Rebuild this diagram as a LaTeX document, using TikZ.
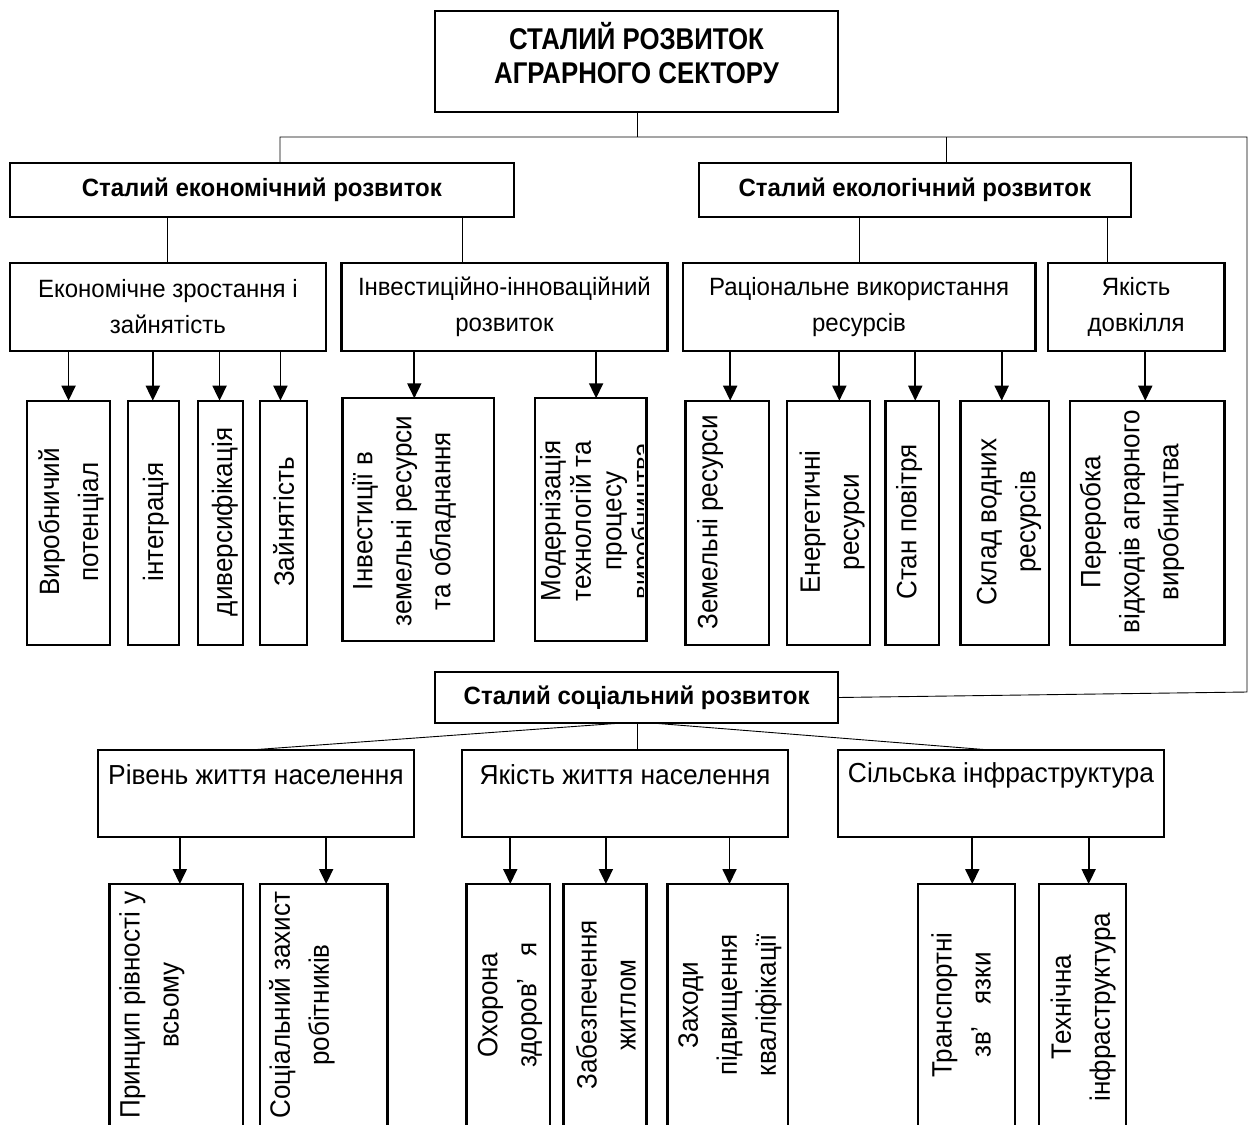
\documentclass[tikz,border=0pt]{standalone}
\usepackage{fontspec}
\setmainfont{Liberation Sans}
\newfontfamily\condbold[FakeStretch=0.86]{Liberation Sans Bold}
\newfontfamily\subbold[FakeStretch=0.96]{Liberation Sans Bold}
\newfontfamily\hfont[FakeStretch=0.96]{Liberation Sans}
\newfontfamily\vfont[FakeStretch=0.93]{Liberation Sans}
\usetikzlibrary{arrows.meta}
\newcommand\mkbox[5]{\node[box, minimum width={(#4-#2)*1pt}, minimum height={(#5-#3)*1pt}] (#1) at ({(#2+#4)/2},{(#3+#5)/2}) {};}
\begin{document}
\begin{tikzpicture}[x=1pt,y=-1pt,
  box/.style={draw, line width=2.2pt, inner sep=0pt, outer sep=0pt},
  conn/.style={line width=0.9pt},
  arr/.style={line width=1.8pt, -{Triangle[length=15pt,width=14pt]}},
  htext/.style={align=center, inner sep=0pt, font=\hfont\fontsize{25}{36}\selectfont},
  stext/.style={align=center, inner sep=0pt, font=\hfont\fontsize{27.5}{36}\selectfont},
  btext/.style={align=center, inner sep=0pt, font=\subbold\fontsize{25}{28}\selectfont},
  vtext/.style={rotate=90, align=center, inner sep=0pt, font=\vfont\fontsize{28}{39}\selectfont},
]
\useasboundingbox[fill=white] (0,0) rectangle (1249,1124);

% level 0
\mkbox{top}{435}{11}{838}{112}
\node[align=center, inner sep=0pt, font=\condbold\fontsize{30}{34}\selectfont] (top-t) at (636.5,53) {СТАЛИЙ РОЗВИТОК\\АГРАРНОГО СЕКТОРУ};

% level 1
\mkbox{econ}{9.6}{163}{514}{217}
\node[btext] (econ-t) at (econ) {Сталий економічний розвиток};
\mkbox{eco}{698.6}{163}{1131}{217}
\node[btext] (eco-t) at (eco) {Сталий екологічний розвиток};
\mkbox{soc}{435.2}{672}{838}{723}
\node[btext] (soc-t) at (soc) {Сталий соціальний розвиток};

% connectors level 0 -> 1
\coordinate (jm) at (637,137);
\coordinate (jl) at (280,137);
\coordinate (jr) at (1247,137);
\coordinate (jsr) at (1247,692);
\draw[conn] (top.south -| jm) -- (jm);
\draw[conn] (econ.north -| jl) -- (jl) -- (jr) -- (jsr) -- (soc.east);
\draw[conn] (eco.north -| 946,0) -- (946,137);

% level 2
\mkbox{eg}{9.8}{263.3}{325.9}{350.7}
\node[htext] (eg-t) at (eg) {Економічне зростання і\\зайнятість};
\mkbox{ii}{341.5}{263.3}{667.4}{350.7}
\node[htext] (ii-t) at (ii) {Інвестиційно-інноваційний\\розвиток};
\mkbox{ru}{682.7}{263.3}{1035.4}{350.7}
\node[htext] (ru-t) at (ru) {Раціональне використання\\ресурсів};
\mkbox{yd}{1047.8}{263.3}{1224.5}{350.7}
\node[htext] (yd-t) at (yd) {Якість\\довкілля};

\draw[conn] (econ.south -| 167,0) -- (eg.north -| 167,0);
\draw[conn] (econ.south -| 462,0) -- (ii.north -| 462,0);
\draw[conn] (eco.south -| 859,0) -- (ru.north -| 859,0);
\draw[conn] (eco.south -| 1107,0) -- (yd.north -| 1107,0);

% level 3 (economic / ecological)
\mkbox{vp}{26.8}{400.7}{110.3}{645}
\mkbox{int}{128}{400.7}{178.6}{645}
\mkbox{div}{197.8}{400.7}{243.3}{645}
\mkbox{zay}{259.8}{400.7}{307.1}{645}
\mkbox{inv}{342.4}{398.3}{494.2}{640.7}
\mkbox{mod}{534.8}{398.3}{646.4}{641}
\mkbox{zem}{685.4}{400.7}{769}{645}
\mkbox{en}{786.8}{400.7}{869.9}{645}
\mkbox{st}{885.5}{400.7}{939}{645}
\mkbox{sk}{960.4}{400.7}{1049}{645}
\mkbox{per}{1070}{400.7}{1224.5}{645}

\node[vtext] (vp-t) at (71,522) {Виробничий\\потенціал};
\node[vtext] (int-t) at (156,522) {інтеграція};
\node[vtext] (div-t) at (225,522) {диверсифікація};
\node[vtext] (zay-t) at (283.5,522) {Зайнятість};
\node[vtext] (inv-t) at (404,521) {Інвестиції в\\земельні ресурси\\та обладнання};
\begin{scope}
\clip (536,399) rectangle (643,640);
\node[vtext, font=\vfont\fontsize{28}{30.5}\selectfont, anchor=north] (mod-t) at (540,521) {Модернізація\\технологій та\\процесу\\виробництва};
\end{scope}
\node[vtext] (zem-t) at (710,522) {Земельні ресурси};
\node[vtext] (en-t) at (832,522) {Енергетичні\\ресурси};
\node[vtext] (st-t) at (909,522) {Стан повітря};
\node[vtext] (sk-t) at (1009,522) {Склад водних\\ресурсів};
\node[vtext] (per-t) at (1132,522) {Переробка\\відходів аграрного\\виробництва};

\draw[arr] (vp.north |- eg.south) -- (vp.north);
\draw[arr] ([xshift=-0.5pt]int.north |- eg.south) -- ([xshift=-0.5pt]int.north);
\draw[arr] ([xshift=-1pt]div.north |- eg.south) -- ([xshift=-1pt]div.north);
\draw[arr] ([xshift=-3pt]zay.north |- eg.south) -- ([xshift=-3pt]zay.north);
\draw[arr] ([xshift=-4pt]inv.north |- ii.south) -- ([xshift=-4pt]inv.north);
\draw[arr] ([xshift=5.5pt]mod.north |- ii.south) -- ([xshift=5.5pt]mod.north);
\draw[arr] ([xshift=3pt]zem.north |- ru.south) -- ([xshift=3pt]zem.north);
\draw[arr] ([xshift=11pt]en.north |- ru.south) -- ([xshift=11pt]en.north);
\draw[arr] ([xshift=3pt]st.north |- ru.south) -- ([xshift=3pt]st.north);
\draw[arr] ([xshift=-3pt]sk.north |- ru.south) -- ([xshift=-3pt]sk.north);
\draw[arr] ([xshift=-2pt]per.north |- yd.south) -- ([xshift=-2pt]per.north);

% social level 2
\mkbox{rz}{98.2}{750}{414.3}{836.7}
\node[stext] (rz-t) at (256,775) {Рівень життя населення};
\mkbox{yz}{462}{750}{787.6}{836.7}
\node[stext] (yz-t) at (625,775) {Якість життя населення};
\mkbox{si}{838}{750}{1163.6}{836.7}
\node[stext] (si-t) at (1001,775) {Сільська інфраструктура};

\draw[conn] (soc.south -| 622,0) -- (rz.north -| 250,0);
\draw[conn] (soc.south -| 637,0) -- (yz.north -| 637,0);
\draw[conn] (soc.south -| 652,0) -- (si.north -| 990,0);

% social level 3
\mkbox{pr}{109.4}{884}{243.3}{1200}
\mkbox{sz}{259.8}{884}{387.5}{1200}
\mkbox{oh}{466.5}{884}{550}{1200}
\mkbox{zab}{563.4}{884}{646.4}{1200}
\mkbox{zah}{667.4}{884}{787.6}{1200}
\mkbox{tr}{917.7}{884}{1014.8}{1200}
\mkbox{teh}{1039}{884}{1126.3}{1200}

\node[vtext] (pr-t) at (152,1005) {Принцип рівності у\\всьому};
\node[vtext] (sz-t) at (302,1005) {Соціальний захист\\робітників};
\node[vtext] (oh-t) at (510,1005) {Охорона\\здоров’\hspace{22pt}я};
\node[vtext] (zab-t) at (606,1005) {Забезпечення\\житлом};
\node[vtext] (zah-t) at (730,1005) {Заходи\\підвищення\\кваліфікації};
\node[vtext] (tr-t) at (961,1005) {Транспортні\\зв’\hspace{22pt}язки};
\node[vtext] (teh-t) at (1083,1007) {Технічна\\інфраструктура};

\draw[arr] ([xshift=3.5pt]pr.north |- rz.south) -- ([xshift=3.5pt]pr.north);
\draw[arr] ([xshift=2.5pt]sz.north |- rz.south) -- ([xshift=2.5pt]sz.north);
\draw[arr] ([xshift=2pt]oh.north |- yz.south) -- ([xshift=2pt]oh.north);
\draw[arr] ([xshift=1pt]zab.north |- yz.south) -- ([xshift=1pt]zab.north);
\draw[arr] ([xshift=2pt]zah.north |- yz.south) -- ([xshift=2pt]zah.north);
\draw[arr] ([xshift=6pt]tr.north |- si.south) -- ([xshift=6pt]tr.north);
\draw[arr] ([xshift=6pt]teh.north |- si.south) -- ([xshift=6pt]teh.north);
\end{tikzpicture}
\end{document}
